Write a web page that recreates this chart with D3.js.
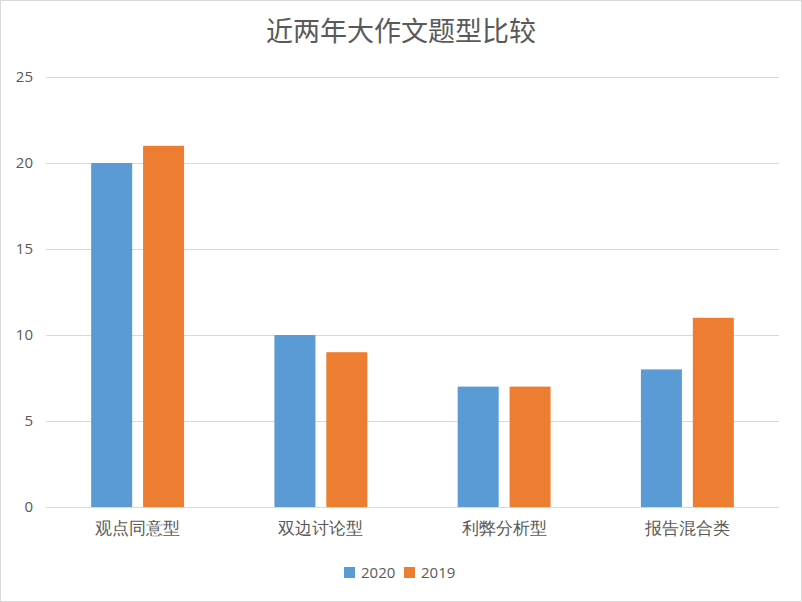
<!DOCTYPE html>
<html>
<head>
<meta charset="utf-8">
<script src="https://cdn.jsdelivr.net/npm/d3@7"></script>
<style>
  body { margin: 0; background: #fff; }
  svg { display: block; font-family: "Noto Sans CJK SC", "Noto Sans", sans-serif; }
  .grid-line { stroke: #d9d9d9; stroke-width: 1; }
</style>
</head>
<body>
<svg id="chart"></svg>
<script>
// данные диаграммы
const categories = ["观点同意型", "双边讨论型", "利弊分析型", "报告混合类"];
const seriesNames = ["2020", "2019"];
const values2020 = [20, 10, 7, 8];
const values2019 = [21, 9, 7, 11];
const yTicks = [0, 5, 10, 15, 20, 25];
const colors = ["#5b9bd5", "#ed7d31"];

let width = 802;
let height = 602;
let plotLeft = 46, plotRight = 779, plotTop = 77, plotBottom = 507;

let svg = d3.select("#chart")
    .attr("width", width)
    .attr("height", height);

// рамка
svg.append("rect")
    .attr("x", 0.5).attr("y", 0.5)
    .attr("width", width - 1).attr("height", height - 1)
    .attr("fill", "#fff")
    .attr("stroke", "#d9d9d9");

// заголовок
svg.append("text")
    .attr("x", 401)
    .attr("y", 41)
    .attr("text-anchor", "middle")
    .attr("fill", "#595959")
    .style("font-size", "27px")
    .text("近两年大作文题型比较");

// шкалы
let scaleX = d3.scaleBand()
    .domain(categories)
    .range([plotLeft, plotRight]);

let scaleInner = d3.scaleBand()
    .domain(seriesNames)
    .range([0, scaleX.bandwidth()])
    .paddingInner(0.21)
    .paddingOuter(0.87);

let scaleY = d3.scaleLinear()
    .domain([0, 25])
    .range([plotBottom, plotTop]);

// горизонтальные линии сетки
svg.append("g")
    .selectAll("line")
    .data(yTicks)
    .enter()
    .append("line")
    .classed("grid-line", true)
    .attr("x1", plotLeft)
    .attr("x2", plotRight)
    .attr("y1", d => Math.round(scaleY(d)) + 0.5)
    .attr("y2", d => Math.round(scaleY(d)) + 0.5);

// ось Y
let axisY = d3.axisLeft(scaleY)
    .tickValues(yTicks)
    .tickSize(0)
    .tickPadding(13);

let gy = svg.append("g")
    .attr("transform", `translate(${plotLeft}, 0)`)
    .call(axisY);
gy.select(".domain").remove();
gy.selectAll("text")
    .attr("fill", "#595959")
    .style("font-size", "15px")
    .style("font-family", "'Open Sans', 'Noto Sans', sans-serif");

// столбики
let rows = categories.map((c, i) => ({ cat: c, vals: [values2020[i], values2019[i]] }));

let groups = svg.append("g")
    .selectAll("g")
    .data(rows)
    .enter()
    .append("g")
    .attr("transform", d => `translate(${scaleX(d.cat)}, 0)`);

groups.selectAll("rect")
    .data(d => d.vals.map((v, j) => ({ key: seriesNames[j], v: v, j: j })))
    .enter()
    .append("rect")
    .attr("x", d => scaleInner(d.key))
    .attr("y", d => scaleY(d.v))
    .attr("width", scaleInner.bandwidth())
    .attr("height", d => plotBottom - scaleY(d.v))
    .attr("fill", d => colors[d.j]);

// ось X
let axisX = d3.axisBottom(scaleX)
    .tickSize(0)
    .tickPadding(15);

let gx = svg.append("g")
    .attr("transform", `translate(0, ${plotBottom})`)
    .call(axisX);
gx.select(".domain").remove();
gx.selectAll("text")
    .attr("fill", "#595959")
    .style("font-size", "17px");

// легенда
let legend = svg.append("g");
let legendX = [344, 404];
seriesNames.forEach((name, i) => {
    legend.append("rect")
        .attr("x", legendX[i])
        .attr("y", 567)
        .attr("width", 11)
        .attr("height", 11)
        .attr("fill", colors[i]);
    legend.append("text")
        .attr("x", legendX[i] + 17)
        .attr("y", 578)
        .attr("fill", "#595959")
        .style("font-size", "15px")
        .style("font-family", "'Open Sans', 'Noto Sans', sans-serif")
        .text(name);
});
</script>
</body>
</html>
